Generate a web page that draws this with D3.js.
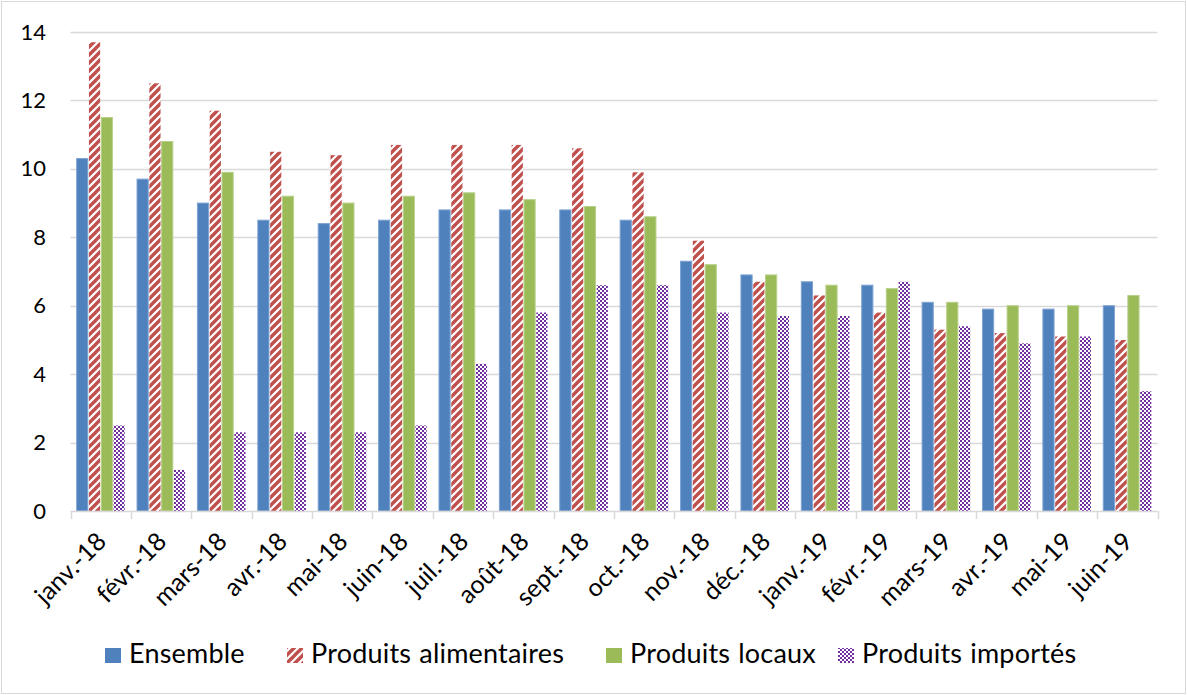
<!DOCTYPE html>
<html>
<head>
<meta charset="utf-8">
<script src="https://cdn.jsdelivr.net/npm/d3@7"></script>
<style>
  html, body { margin: 0; padding: 0; background: #fff; }
  svg { display: block; font-family: Lato, "Open Sans", sans-serif; }
</style>
</head>
<body>
<svg id="chart" width="1187" height="695"></svg>
<script>
// Monthly categories
const months = ["janv.-18", "févr.-18", "mars-18", "avr.-18", "mai-18", "juin-18", "juil.-18", "août-18", "sept.-18",
  "oct.-18", "nov.-18", "déc.-18", "janv.-19", "févr.-19", "mars-19", "avr.-19", "mai-19", "juin-19"];

// Series values
const ensemble     = [10.3, 9.7, 9.0, 8.5, 8.4, 8.5, 8.8, 8.8, 8.8, 8.5, 7.3, 6.9, 6.7, 6.6, 6.1, 5.9, 5.9, 6.0];
const alimentaires = [13.7, 12.5, 11.7, 10.5, 10.4, 10.7, 10.7, 10.7, 10.6, 9.9, 7.9, 6.7, 6.3, 5.8, 5.3, 5.2, 5.1, 5.0];
const locaux       = [11.5, 10.8, 9.9, 9.2, 9.0, 9.2, 9.3, 9.1, 8.9, 8.6, 7.2, 6.9, 6.6, 6.5, 6.1, 6.0, 6.0, 6.3];
const importes     = [2.5, 1.2, 2.3, 2.3, 2.3, 2.5, 4.3, 5.8, 6.6, 6.6, 5.8, 5.7, 5.7, 6.7, 5.4, 4.9, 5.1, 3.5];

const seriesNames = ["Ensemble", "Produits alimentaires", "Produits locaux", "Produits importés"];
const yTicks = [0, 2, 4, 6, 8, 10, 12, 14];

const series = [
  { name: seriesNames[0], values: ensemble,     fill: "#4F81BD", stroke: "#7FA3D3" },
  { name: seriesNames[1], values: alimentaires, fill: "url(#diag)", stroke: "none" },
  { name: seriesNames[2], values: locaux,       fill: "#9BBB59", stroke: "#B9D08A" },
  { name: seriesNames[3], values: importes,     fill: "url(#check)", stroke: "none" }
];

const svg = d3.select("#chart");
const W = 1187, H = 695;

// Patterns
const defs = svg.append("defs");
const diag = defs.append("pattern").attr("id", "diag")
  .attr("patternUnits", "userSpaceOnUse").attr("width", 8).attr("height", 8);
diag.append("rect").attr("width", 8).attr("height", 8).attr("fill", "#fff");
diag.append("path")
  .attr("d", "M-2,2 L2,-2 M0,8 L8,0 M6,10 L10,6")
  .attr("stroke", "#C0504D").attr("stroke-width", 3.4);

const check = defs.append("pattern").attr("id", "check")
  .attr("patternUnits", "userSpaceOnUse").attr("width", 4).attr("height", 4);
check.append("rect").attr("width", 4).attr("height", 4).attr("fill", "#fff");
check.append("rect").attr("x", 0).attr("y", 0).attr("width", 2).attr("height", 2).attr("fill", "#7030A0");
check.append("rect").attr("x", 2).attr("y", 2).attr("width", 2).attr("height", 2).attr("fill", "#7030A0");

// Outer frame
svg.append("rect").attr("x", 1.5).attr("y", 1.5).attr("width", W - 3).attr("height", H - 3)
  .attr("fill", "none").attr("stroke", "#D9D9D9").attr("stroke-width", 1);

const plot = { left: 70.5, right: 1157.5, top: 32, bottom: 511 };

const x = d3.scaleBand().domain(months).range([plot.left, plot.right]).paddingInner(0).paddingOuter(0);
const y = d3.scaleLinear().domain([0, 14]).range([plot.bottom, plot.top]);

// Gridlines
svg.append("g").selectAll("line").data(yTicks.filter(d => d > 0)).join("line")
  .attr("x1", plot.left).attr("x2", plot.right)
  .attr("y1", d => Math.round(y(d)) + 0.5).attr("y2", d => Math.round(y(d)) + 0.5)
  .attr("stroke", "#D9D9D9").attr("stroke-width", 1.5);

// Y axis labels
const yAxis = d3.axisLeft(y).tickValues(yTicks).tickSize(0).tickPadding(0).tickFormat(d3.format("d"));
const yg = svg.append("g").attr("transform", `translate(46,0)`).call(yAxis);
yg.select(".domain").remove();
yg.selectAll("text").attr("font-size", 22).attr("fill", "#000").attr("font-family", "Lato, sans-serif");

// Bars
const inner = d3.scaleBand().domain(d3.range(4)).range([0, x.bandwidth()]).paddingInner(0.09).paddingOuter(0.5);
series.forEach((s, si) => {
  svg.append("g").selectAll("rect").data(s.values).join("rect")
    .attr("x", (d, i) => x(months[i]) + inner(si))
    .attr("y", d => y(d))
    .attr("width", inner.bandwidth())
    .attr("height", d => y(0) - y(d))
    .attr("fill", s.fill)
    .attr("stroke", s.stroke)
    .attr("stroke-width", 1);
});

// X axis
const xAxis = d3.axisBottom(x).tickSize(0).tickPadding(0);
const xg = svg.append("g").attr("transform", `translate(0,${plot.bottom})`).call(xAxis);
xg.select(".domain").remove();
xg.append("line").attr("x1", plot.left).attr("x2", plot.right).attr("y1", 0.5).attr("y2", 0.5)
  .attr("stroke", "#D9D9D9").attr("stroke-width", 1.5);
const boundaries = months.map(m => x(m)).concat([plot.right]);
xg.selectAll(".bnd").data(boundaries).join("line").attr("class", "bnd")
  .attr("x1", d => Math.round(d) + 0.5).attr("x2", d => Math.round(d) + 0.5)
  .attr("y1", 0).attr("y2", 8)
  .attr("stroke", "#D9D9D9").attr("stroke-width", 1.5);
xg.selectAll(".tick text")
  .attr("font-size", 25).attr("fill", "#000").attr("font-family", "Lato, sans-serif")
  .attr("text-anchor", "end").attr("dy", 0)
  .attr("transform", "translate(7,32) rotate(-45)");

// Legend
const legendPos = [105, 287, 606, 838];
const lg = svg.append("g").attr("transform", "translate(0,663)");
series.forEach((s, i) => {
  const g = lg.append("g").attr("transform", `translate(${legendPos[i]},0)`);
  g.append("rect").attr("x", 0).attr("y", -15).attr("width", 16).attr("height", 15)
    .attr("fill", s.fill);
  g.append("text").attr("x", 24).attr("y", 0)
    .attr("font-size", 27).attr("fill", "#000").attr("font-family", "Lato, sans-serif")
    .attr("letter-spacing", 0.2).attr("word-spacing", 1)
    .text(s.name);
});
</script>
</body>
</html>
